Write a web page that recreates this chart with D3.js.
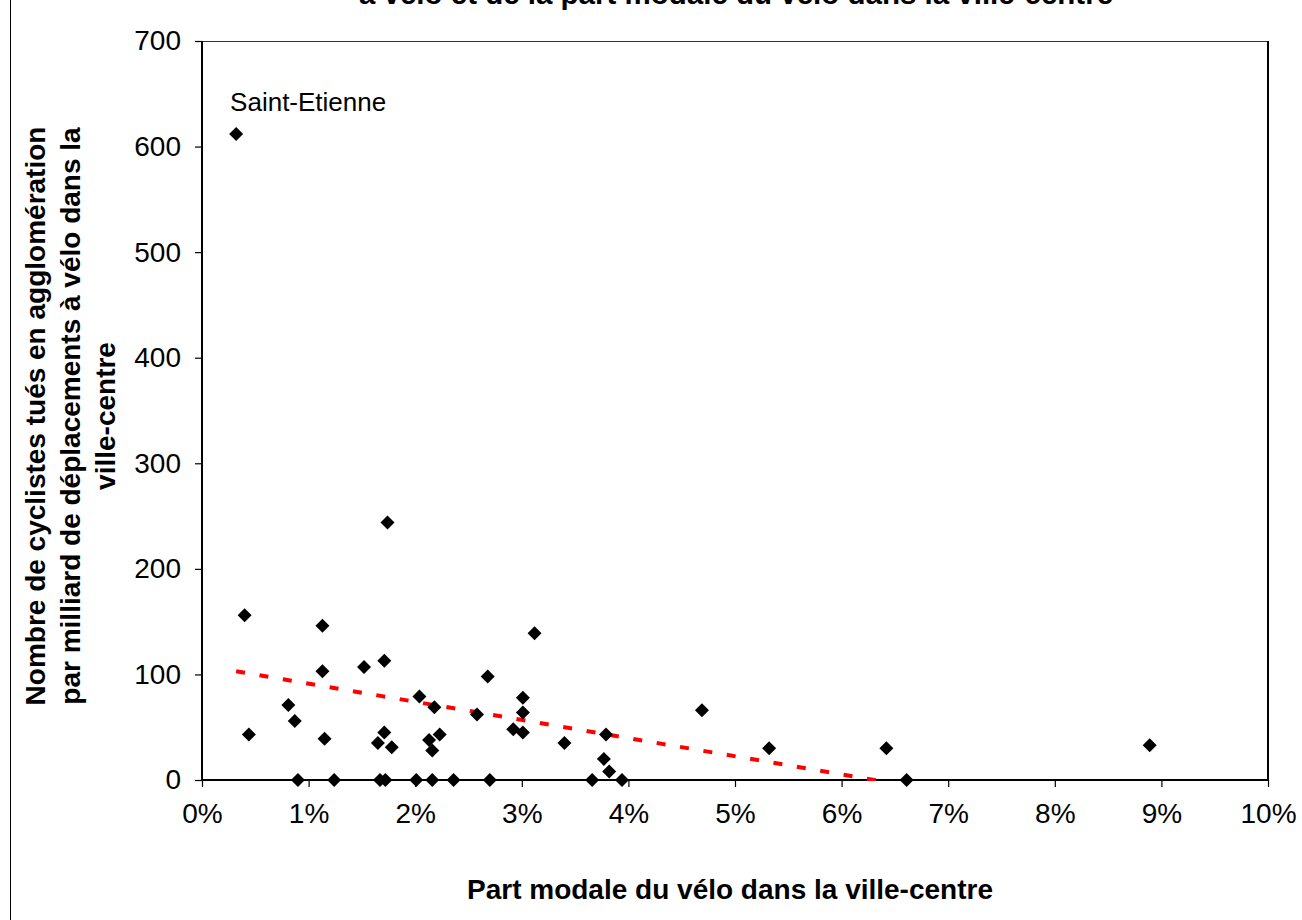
<!DOCTYPE html>
<html>
<head>
<meta charset="utf-8">
<script src="https://cdn.jsdelivr.net/npm/d3@7"></script>
<style>
  html, body { margin: 0; padding: 0; background: #fff; }
  svg { display: block; font-family: "Liberation Sans", Arial, sans-serif; }
</style>
</head>
<body>
<svg id="chart" width="1302" height="920"></svg>
<script>
// ---- Data ----
// Part modale du vélo dans la ville-centre (%)
const modalShare = [
  0.32, 0.40, 0.44, 0.81, 0.87, 0.90, 1.13, 1.13, 1.15, 1.24,
  1.52, 1.65, 1.67, 1.71, 1.71, 1.72, 1.74, 1.78, 2.01, 2.04,
  2.13, 2.16, 2.16, 2.18, 2.23, 2.36, 2.58, 2.68, 2.70, 2.92,
  3.01, 3.01, 3.01, 3.12, 3.40, 3.66, 3.77, 3.79, 3.82, 3.94,
  4.69, 5.32, 6.42, 6.61, 8.89
];
// Nombre de cyclistes tués par milliard de déplacements à vélo
const killedPerBillion = [
  612, 156, 43, 71, 56, 0, 146, 103, 39, 0,
  107, 35, 0, 113, 45, 0, 244, 31, 0, 79,
  38, 28, 0, 69, 43, 0, 62, 98, 0, 48,
  78, 64, 45, 139, 35, 0, 20, 43, 8, 0,
  66, 30, 30, 0, 33
];
const pointLabels = ["Saint-Etienne"];
const labelledIndex = [0];

// Linear trend line (as drawn in the reference): y = intercept + slope * x(%)
const trendIntercept = 108.5;
const trendSlope = -17.2;

const xTicks = [0, 1, 2, 3, 4, 5, 6, 7, 8, 9, 10];
const yTicks = [0, 100, 200, 300, 400, 500, 600, 700];

const titleLine = "à vélo et de la part modale du vélo dans la ville-centre";
const xTitle = "Part modale du vélo dans la ville-centre";
const yTitleLines = [
  "Nombre de cyclistes tués en agglomération",
  "par milliard de déplacements à vélo dans la",
  "ville-centre"
];

// ---- Layout ----
const svg = d3.select("#chart");
const plot = { left: 202, right: 1268, top: 41, bottom: 780 };

const x = d3.scaleLinear().domain([0, 10]).range([plot.left, plot.right]);
const y = d3.scaleLinear().domain([0, 700]).range([plot.bottom, plot.top]);

// chart-area border (left edge visible)
svg.append("line")
  .attr("x1", 10.5).attr("x2", 10.5).attr("y1", 0).attr("y2", 920)
  .attr("stroke", "#000").attr("stroke-width", 1);

// title (cut at top in the reference)
svg.append("text")
  .attr("x", 736).attr("y", 4)
  .attr("text-anchor", "middle")
  .attr("font-size", 29.5).attr("font-weight", "bold")
  .text(titleLine);

// plot area border: top and right
svg.append("line")
  .attr("x1", plot.left).attr("x2", plot.right)
  .attr("y1", plot.top + 0.5).attr("y2", plot.top + 0.5)
  .attr("stroke", "#333").attr("stroke-width", 1.2);
svg.append("line")
  .attr("x1", plot.right).attr("x2", plot.right)
  .attr("y1", plot.top).attr("y2", plot.bottom)
  .attr("stroke", "#000").attr("stroke-width", 2);

// axes
const xAxis = d3.axisBottom(x).tickValues(xTicks)
  .tickFormat(d => d + "%").tickSize(7).tickPadding(16);
const yAxis = d3.axisLeft(y).tickValues(yTicks)
  .tickFormat(d3.format("d")).tickSize(7).tickPadding(14);

const gx = svg.append("g").attr("transform", `translate(0,${plot.bottom})`).call(xAxis);
const gy = svg.append("g").attr("transform", `translate(${plot.left},0)`).call(yAxis);

[gx, gy].forEach(g => {
  g.select(".domain").attr("stroke", "#000").attr("stroke-width", 2);
  g.selectAll(".tick line").attr("stroke", "#000").attr("stroke-width", 1.2);
  g.selectAll(".tick text")
    .attr("font-family", "Liberation Sans, Arial, sans-serif")
    .attr("font-size", 28).attr("fill", "#000");
});
gy.select(".domain").attr("d", `M0,${plot.bottom}V${plot.top}`);
gx.select(".domain").attr("d", `M${plot.left},0H${plot.right}`);

// axis titles
svg.append("text")
  .attr("x", 730).attr("y", 899)
  .attr("text-anchor", "middle")
  .attr("font-size", 28).attr("font-weight", "bold")
  .text(xTitle);

const yTitle = svg.append("text")
  .attr("transform", `translate(45,${(122 + 710) / 2}) rotate(-90)`)
  .attr("text-anchor", "middle")
  .attr("font-size", 28).attr("font-weight", "bold");
yTitleLines.forEach((line, i) => {
  yTitle.append("tspan").attr("x", 0).attr("dy", i === 0 ? 0 : 35).text(line);
});

// clip for trend line
svg.append("clipPath").attr("id", "plotclip")
  .append("rect")
  .attr("x", plot.left).attr("y", plot.top)
  .attr("width", plot.right - plot.left).attr("height", plot.bottom - plot.top + 1);

// trend line
const xExtent = d3.extent(modalShare);
const trendPts = [xExtent[0], xExtent[1]].map(v => [v, trendIntercept + trendSlope * v]);
svg.append("path")
  .datum(trendPts)
  .attr("clip-path", "url(#plotclip)")
  .attr("d", d3.line().x(d => x(d[0])).y(d => y(d[1])))
  .attr("fill", "none")
  .attr("stroke", "#ff0000")
  .attr("stroke-width", 4)
  .attr("stroke-dasharray", "9,14.7");

// markers (diamonds)
const pts = modalShare.map((v, i) => ({ x: v, y: killedPerBillion[i] }));
const r = 7;
svg.append("g").selectAll("path")
  .data(pts)
  .join("path")
  .attr("transform", d => `translate(${x(d.x)},${y(d.y)})`)
  .attr("d", `M0,${-r}L${r},0L0,${r}L${-r},0Z`)
  .attr("fill", "#000");

// data label
labelledIndex.forEach((idx, k) => {
  svg.append("text")
    .attr("x", x(modalShare[idx]) - 6)
    .attr("y", y(killedPerBillion[idx]) - 23)
    .attr("font-size", 26)
    .text(pointLabels[k]);
});
</script>
</body>
</html>
